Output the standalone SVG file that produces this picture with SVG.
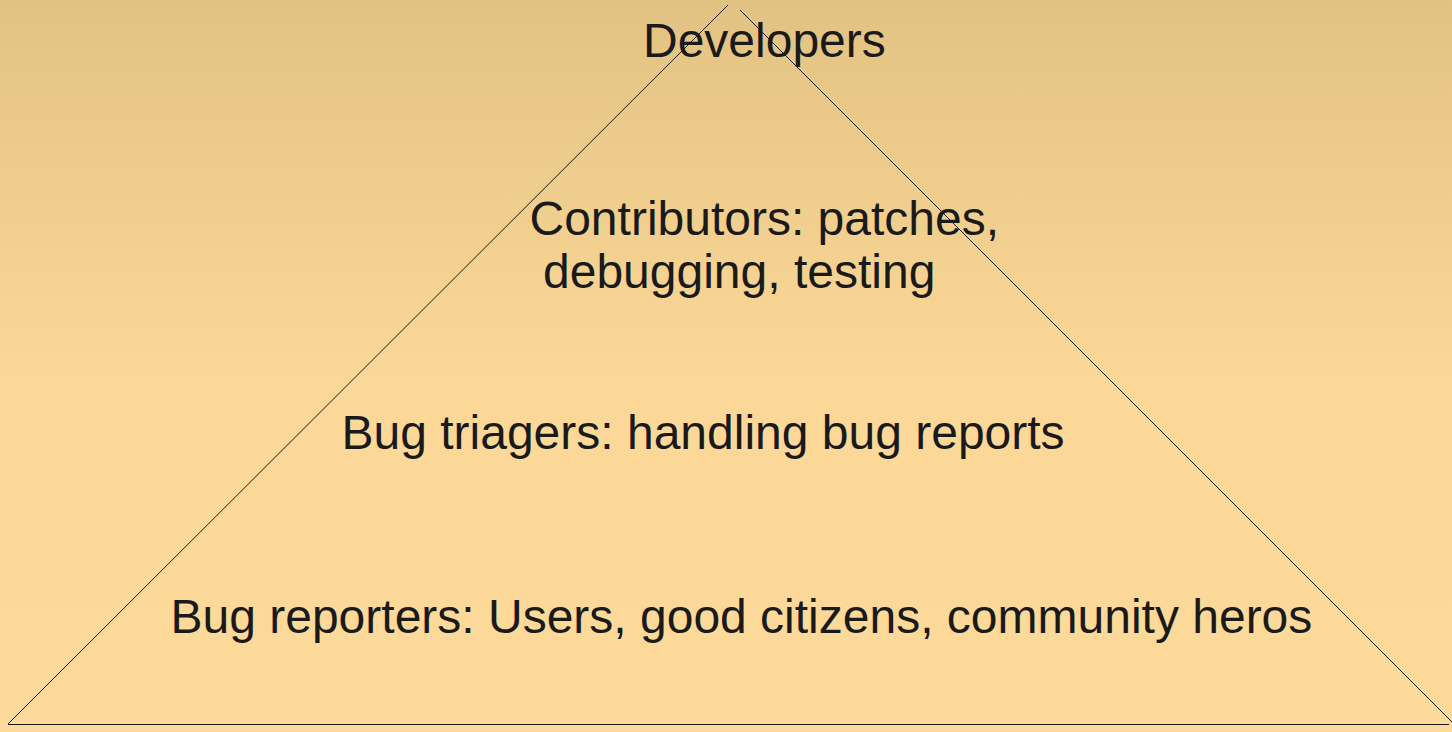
<svg xmlns="http://www.w3.org/2000/svg" width="1452" height="732" viewBox="0 0 1452 732">
<defs>
<linearGradient id="bg" x1="0" y1="0" x2="0" y2="1">
<stop offset="0" stop-color="#e2c282"/>
<stop offset="0.52" stop-color="#fcd898"/>
<stop offset="1" stop-color="#fdd99a"/>
</linearGradient>
</defs>
<style>
.t{font-family:"Liberation Sans",Arial,sans-serif;font-size:48px;fill:#1a1a1a}
.l{stroke:#1a1a1a;stroke-width:1;fill:none}
</style>
<rect x="0" y="0" width="1452" height="732" fill="url(#bg)"/>
<g id="connectors">
<line class="l" x1="8" y1="724" x2="728" y2="5"/>
<line class="l" x1="740" y1="10" x2="1452" y2="722"/>
<line class="l" x1="8" y1="724.5" x2="1449" y2="724.5" stroke-width="1.5"/>
</g>
<g id="developers"><text class="t" x="643" y="57">Developers</text></g>
<g id="contributors"><text class="t" x="529.5" y="235">Contributors: patches,</text><text class="t" x="543" y="288">debugging, testing</text></g>
<g id="triagers"><text class="t" x="341.5" y="449">Bug triagers: handling bug reports</text></g>
<g id="reporters"><text class="t" x="170.5" y="633">Bug reporters: Users, good citizens, community heros</text></g>
</svg>
